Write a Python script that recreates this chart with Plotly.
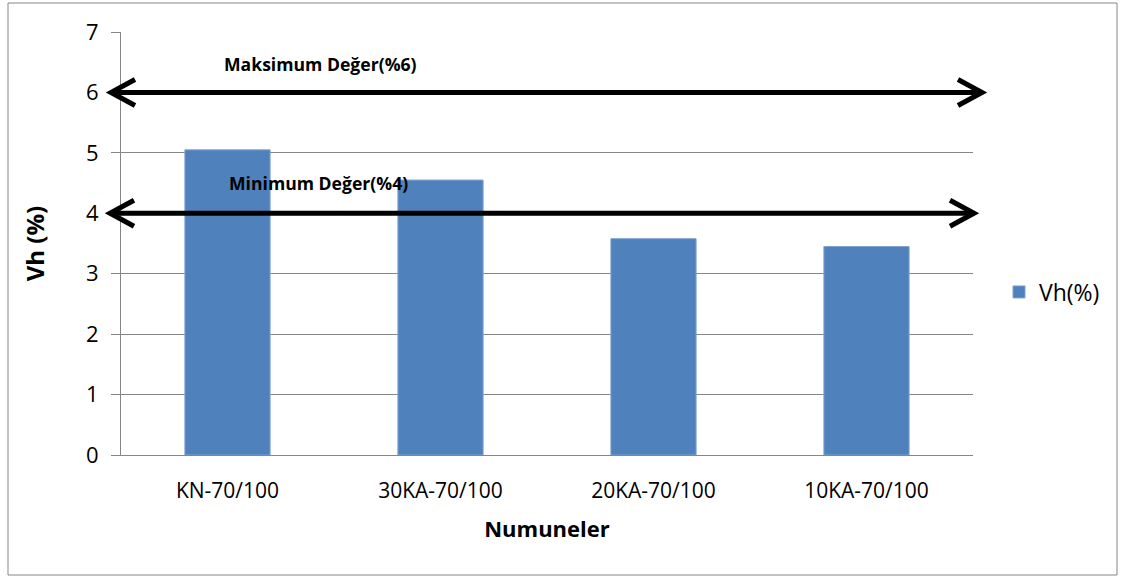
import plotly.graph_objects as go

# Chart data
categories = ["KN-70/100", "30KA-70/100", "20KA-70/100", "10KA-70/100"]
vh_values = [5.05, 4.55, 3.58, 3.45]
y_ticks = [0, 1, 2, 3, 4, 5, 6, 7]
limit_values = [6, 4]
limit_labels = ["Maksimum Değer(%6)", "Minimum Değer(%4)"]

W, H = 1127, 579
L, R, T, B = 121, 154, 32, 124
plot_w = W - L - R
plot_h = H - T - B


def px_x(p):
    """Pixel column -> paper x."""
    return (p - L) / plot_w


def px_y(p):
    """Pixel row -> paper y."""
    return (H - B - p) / plot_h


GRID = "#868686"
FONT = "Open Sans"

fig = go.Figure()
fig.add_trace(go.Bar(
    x=categories,
    y=vh_values,
    name="Vh(%)",
    marker=dict(color="#4F81BD", line=dict(color="#7FA3D0", width=1)),
))

shapes = []
annotations = []

# double-headed reference arrows for the limit values
arrow_ends = [(px_x(111), px_x(982)), (px_x(110), px_x(974))]
label_pos = [(px_x(320), 6.47), (px_x(318), 4.50)]
for val, (xl, xr), text, (lx, ly) in zip(limit_values, arrow_ends, limit_labels, label_pos):
    shapes.append(dict(type="line", xref="paper", yref="y", x0=xl + 0.004, x1=xr - 0.004,
                       y0=val, y1=val, line=dict(color="black", width=5), layer="above"))
    shapes.append(dict(type="path", xref="paper", yref="y", xsizemode="pixel", ysizemode="pixel",
                       xanchor=xr, yanchor=val, path="M-24,-13 L0,0 L-24,13",
                       line=dict(color="black", width=5), layer="above"))
    shapes.append(dict(type="path", xref="paper", yref="y", xsizemode="pixel", ysizemode="pixel",
                       xanchor=xl, yanchor=val, path="M24,-13 L0,0 L24,13",
                       line=dict(color="black", width=5), layer="above"))
    annotations.append(dict(text="<b>%s</b>" % text, xref="paper", yref="y", x=lx, y=ly,
                            showarrow=False, font=dict(family=FONT, size=17.6, color="black"),
                            xanchor="center", yanchor="middle"))

# chart frame
shapes.append(dict(type="rect", xref="paper", yref="paper",
                   x0=px_x(8), x1=px_x(1117), y0=px_y(575), y1=px_y(3),
                   line=dict(color=GRID, width=1), layer="below"))

fig.update_layout(
    width=W, height=H,
    margin=dict(l=L, r=R, t=T, b=B, pad=0),
    paper_bgcolor="white", plot_bgcolor="white",
    bargap=0.6,
    showlegend=True,
    legend=dict(x=px_x(999), y=px_y(292), xanchor="left", yanchor="middle",
                font=dict(family=FONT, size=23, color="black"),
                bgcolor="rgba(0,0,0,0)", itemwidth=30),
    shapes=shapes,
    annotations=annotations,
    font=dict(family=FONT, color="black"),
)

fig.update_xaxes(
    showline=True, linecolor=GRID, linewidth=1,
    ticks="", showgrid=False,
    tickfont=dict(family=FONT, size=21, color="black"),
    ticklabelstandoff=17,
    title=dict(text="<b>Numuneler</b>", font=dict(family=FONT, size=22, color="black"), standoff=18),
)

fig.update_yaxes(
    range=[0, 7], tickvals=y_ticks,
    showline=True, linecolor=GRID, linewidth=1,
    ticks="outside", ticklen=9, tickcolor=GRID, tickwidth=1,
    showgrid=True, gridcolor=GRID, gridwidth=1,
    zeroline=False,
    tickfont=dict(family=FONT, size=22, color="black"),
    ticklabelstandoff=8,
    title=dict(text="<b>Vh (%)</b>", font=dict(family=FONT, size=24, color="black"), standoff=34),
)

fig.write_html("out.html")
